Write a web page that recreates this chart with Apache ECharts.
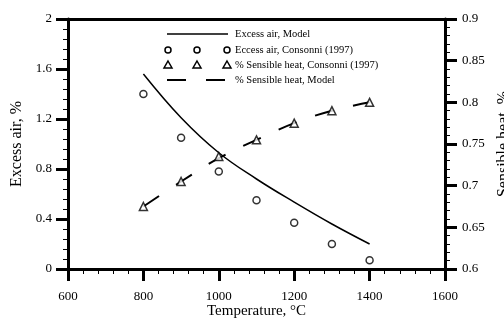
<!DOCTYPE html>
<html>
<head>
<meta charset="utf-8">
<script src="https://cdn.jsdelivr.net/npm/echarts@6/dist/echarts.min.js"></script>
<style>
  html, body { margin: 0; padding: 0; background: #fff; }
  #chart { width: 504px; height: 320px; }
</style>
</head>
<body>
<div id="chart"></div>
<script>
// data
var temps = [800, 900, 1000, 1100, 1200, 1300, 1400];
var excessModel = [1.56, 1.21, 0.93, 0.72, 0.535, 0.36, 0.2];
var heatModel = [0.675, 0.705, 0.733, 0.755, 0.775, 0.79, 0.80];
var excessExp = [1.4, 1.05, 0.78, 0.55, 0.37, 0.2, 0.07];
var heatExp = [0.675, 0.705, 0.735, 0.755, 0.775, 0.79, 0.80];

var legendNames = ['Excess air, Model', 'Eccess air, Consonni (1997)', '% Sensible heat, Consonni (1997)', '% Sensible heat, Model'];

function pairs(xs, ys) {
  return xs.map(function (x, i) { return [x, ys[i]]; });
}

var font = 'Liberation Serif';
var chart = echarts.init(document.getElementById('chart'));

// 图例用 graphic 画（每行三个标记）
var lx = 167, rows = [34, 50, 65, 80];
var legend = [
  { type: 'line', shape: { x1: lx, y1: rows[0], x2: lx + 61, y2: rows[0] }, style: { stroke: '#000', lineWidth: 1.5 } },
  { type: 'line', shape: { x1: lx, y1: rows[3], x2: lx + 19, y2: rows[3] }, style: { stroke: '#000', lineWidth: 2 } },
  { type: 'line', shape: { x1: lx + 39, y1: rows[3], x2: lx + 58, y2: rows[3] }, style: { stroke: '#000', lineWidth: 2 } }
];
[0, 29, 59].forEach(function (dx) {
  legend.push({ type: 'circle', shape: { cx: lx + 1 + dx, cy: rows[1], r: 3 }, style: { fill: '#fff', stroke: '#000', lineWidth: 1.5 } });
  legend.push({ type: 'polygon', shape: { points: [[lx + 1 + dx, rows[2] - 4], [lx + 5 + dx, rows[2] + 3], [lx - 3 + dx, rows[2] + 3]] }, style: { fill: '#fff', stroke: '#000', lineWidth: 1.5 } });
});
legendNames.forEach(function (name, i) {
  legend.push({ type: 'text', x: 235, y: rows[i], style: { text: name, font: '10.5px "' + font + '"', fill: '#000', textVerticalAlign: 'middle' } });
});

var tickText = { color: '#000', fontFamily: font, fontSize: 13 };

var option = {
  animation: false,
  textStyle: { fontFamily: font },
  grid: { left: 68, right: 59, top: 19, bottom: 51, outerBoundsMode: 'none', containLabel: false },
  xAxis: [{
    type: 'value', min: 600, max: 1600, interval: 200,
    name: 'Temperature, °C', nameLocation: 'middle', nameGap: 35, nameMoveOverlap: false,
    nameTextStyle: { color: '#000', fontFamily: font, fontSize: 15 },
    axisLine: { lineStyle: { color: '#000', width: 3 } },
    axisTick: { length: 12, lineStyle: { color: '#000', width: 3 } },
    minorTick: { show: true, splitNumber: 5, length: 5, lineStyle: { color: '#000', width: 1 } },
    axisLabel: Object.assign({ margin: 21, formatter: function (v) { return String(v); } }, tickText),
    splitLine: { show: false }
  }, {
    type: 'value', position: 'top', min: 600, max: 1600,
    axisLine: { show: true, onZero: false, lineStyle: { color: '#000', width: 3 } },
    axisTick: { show: false }, axisLabel: { show: false }, splitLine: { show: false }
  }],
  yAxis: [{
    type: 'value', min: 0, max: 2, interval: 0.4,
    name: 'Excess air, %', nameLocation: 'middle', nameGap: 40, nameRotate: 90,
    nameTextStyle: { color: '#000', fontFamily: font, fontSize: 16 },
    axisLine: { show: true, lineStyle: { color: '#000', width: 3 } },
    axisTick: { show: true, length: 12, lineStyle: { color: '#000', width: 3 } },
    minorTick: { show: true, splitNumber: 5, length: 5, lineStyle: { color: '#000', width: 1 } },
    axisLabel: Object.assign({ margin: 16 }, tickText),
    splitLine: { show: false }
  }, {
    type: 'value', position: 'right', min: 0.6, max: 0.9, interval: 0.05,
    name: 'Sensible heat, %', nameLocation: 'middle', nameGap: 50, nameRotate: 90,
    nameTextStyle: { color: '#000', fontFamily: font, fontSize: 16 },
    axisLine: { show: true, lineStyle: { color: '#000', width: 3 } },
    axisTick: { show: true, length: 12, lineStyle: { color: '#000', width: 3 } },
    minorTick: { show: true, splitNumber: 5, length: 5, lineStyle: { color: '#000', width: 1 } },
    axisLabel: Object.assign({ margin: 17 }, tickText),
    splitLine: { show: false }
  }],
  graphic: legend,
  series: [{
    name: legendNames[0], type: 'line', xAxisIndex: 0, yAxisIndex: 0,
    data: pairs(temps, excessModel), smooth: 0.4, showSymbol: false,
    lineStyle: { color: '#000', width: 1.5 }
  }, {
    name: legendNames[1], type: 'scatter', xAxisIndex: 0, yAxisIndex: 0,
    data: pairs(temps, excessExp), symbol: 'circle', symbolSize: 7,
    itemStyle: { color: '#fff', borderColor: '#000', borderWidth: 1.5 }
  }, {
    name: legendNames[2], type: 'scatter', xAxisIndex: 0, yAxisIndex: 1,
    data: pairs(temps, heatExp), symbol: 'triangle', symbolSize: 8,
    itemStyle: { color: '#fff', borderColor: '#000', borderWidth: 1.5 }, z: 3
  }, {
    name: legendNames[3], type: 'line', xAxisIndex: 0, yAxisIndex: 1,
    data: pairs(temps, heatModel), smooth: 0.4, showSymbol: false,
    lineStyle: { color: '#000', width: 2, type: [19, 20] }
  }]
};
chart.setOption(option);
</script>
</body>
</html>
